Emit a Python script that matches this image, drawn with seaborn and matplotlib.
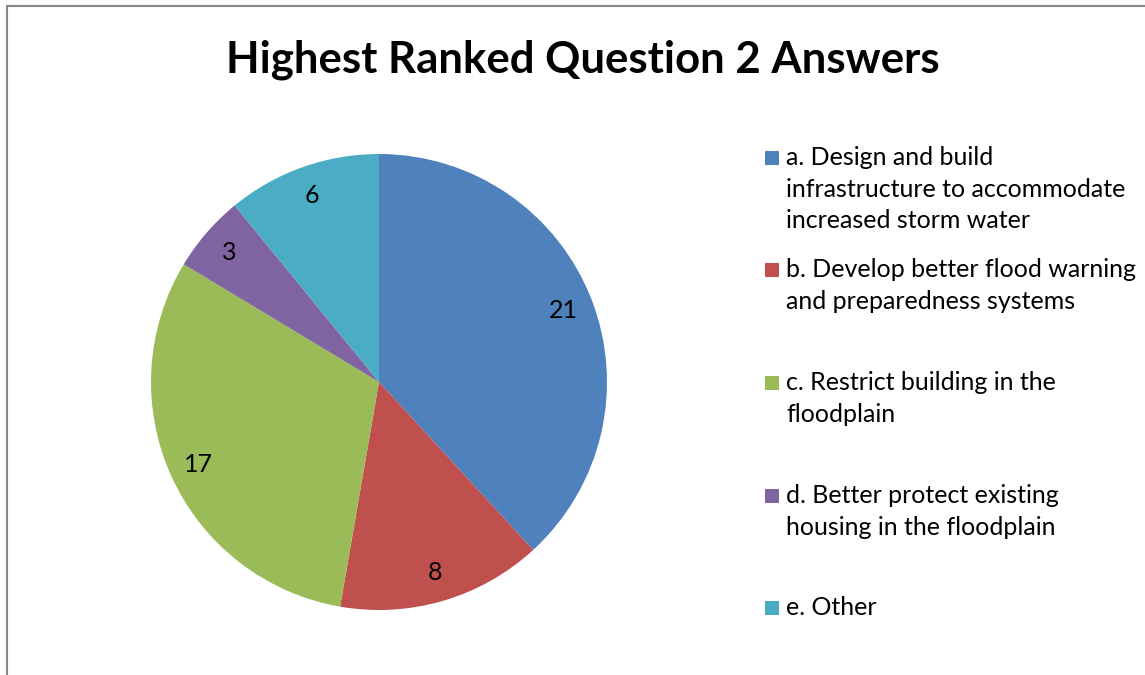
import matplotlib
import seaborn as sns

matplotlib.use('Agg')
import matplotlib.pyplot as plt
from matplotlib.patches import Rectangle

# Chart data
categories = [
    "a. Design and build\ninfrastructure to accommodate\nincreased storm water",
    "b. Develop better flood warning\nand preparedness systems",
    "c. Restrict building in the\nfloodplain",
    "d. Better protect existing\nhousing in the floodplain",
    "e. Other",
]
counts = [21, 8, 17, 3, 6]
colors = ["#4F81BD", "#C0504D", "#9BBB59", "#8064A2", "#4BACC6"]

sns.set_theme(style="white")
plt.rcParams['font.family'] = ['Lato', 'DejaVu Sans']
plt.rcParams['text.color'] = 'black'

W, H = 1145, 675
fig = plt.figure(figsize=(W / 100, H / 100), dpi=100)
fig.patch.set_facecolor('white')

# Outer chart border (left/top visible, rest clipped)
fig.patches.append(Rectangle((7 / W, -0.05), 1.2, 1 - 6 / H + 0.05,
                             transform=fig.transFigure, fill=False,
                             edgecolor='#868686', linewidth=1.5))

# Pie axes: centre (379, 382) px, radius 228 px
cx, cy, r = 379, 382, 228
ax = fig.add_axes([(cx - r) / W, (H - cy - r) / H, 2 * r / W, 2 * r / H])
palette = sns.color_palette(colors)
total = sum(counts)
wedges, texts, autotexts = ax.pie(
    counts, colors=palette, startangle=90, counterclock=False,
    autopct=lambda p: f"{round(p * total / 100)}", pctdistance=0.87,
    wedgeprops=dict(linewidth=0),
    textprops=dict(fontsize=18, color='black'))
ax.set_xlim(-1, 1)
ax.set_ylim(-1, 1)

fig.text(583 / W, 1 - 60 / H, "Highest Ranked Question 2 Answers",
         ha='center', va='center', fontsize=31.5, fontweight='bold',
         color='black')

# Legend, evenly spaced like the original
legend_top = [158, 270, 383, 496, 608]
for label, col, y in zip(categories, palette, legend_top):
    fig.patches.append(Rectangle((765 / W, 1 - (y + 7) / H), 14 / W, 14 / H,
                                 transform=fig.transFigure, facecolor=col,
                                 edgecolor='none'))
    fig.text(786 / W, 1 - (y - 12) / H, label, ha='left', va='top',
             fontsize=18, linespacing=1.45, color='black')

plt.savefig('out.png', dpi=100)
plt.close()
